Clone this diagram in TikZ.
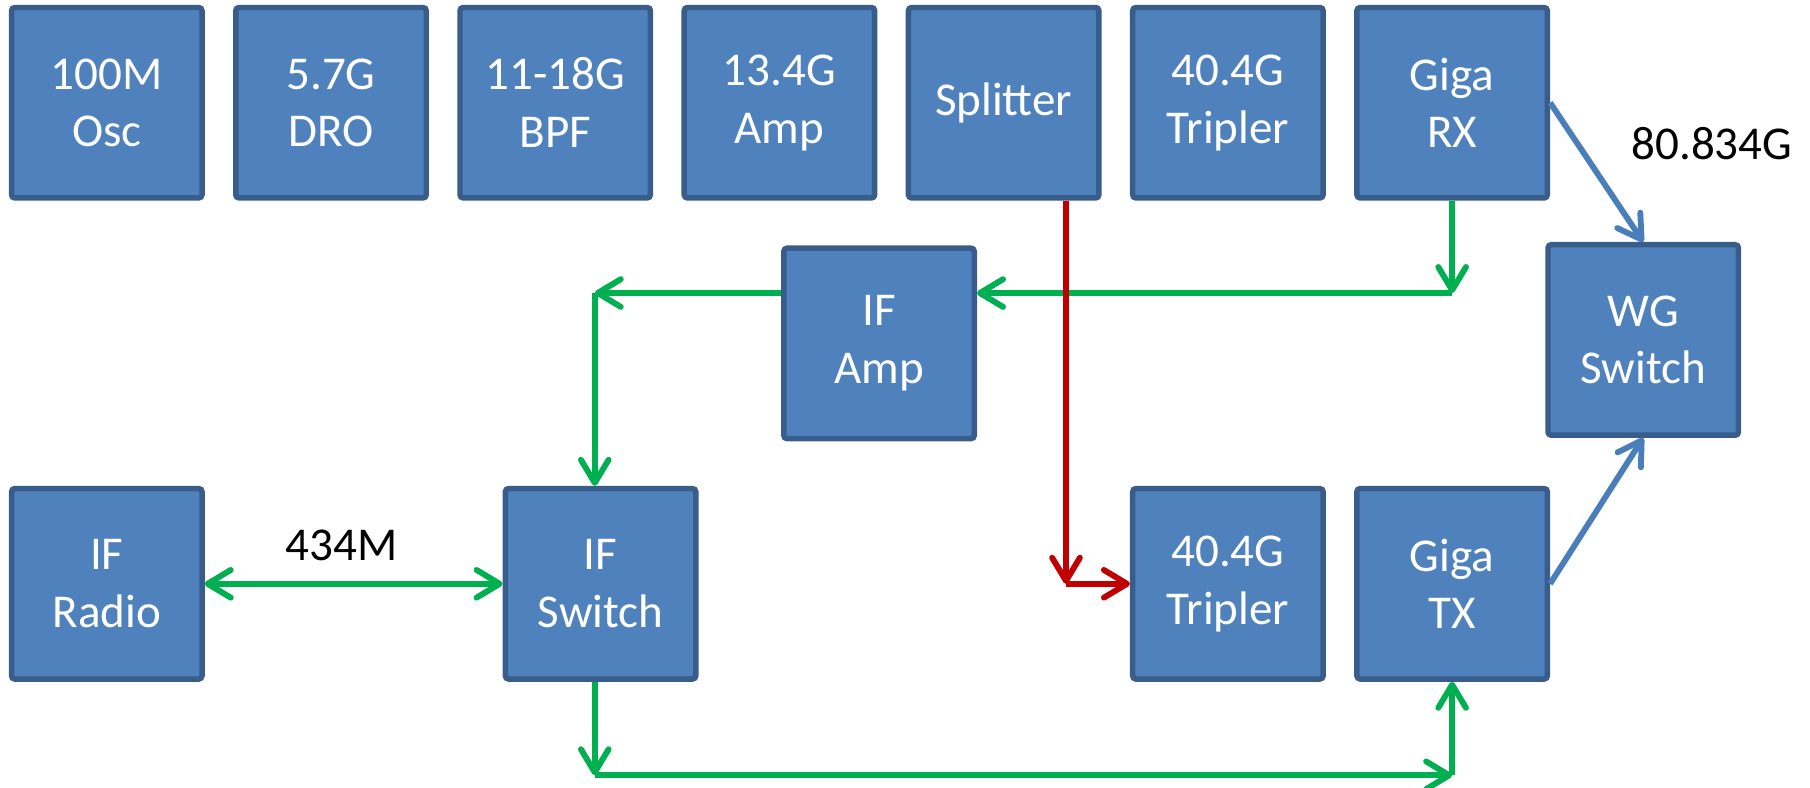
\documentclass[tikz,border=0pt]{standalone}
\usepackage{fontspec}
\setmainfont{Carlito}
\usetikzlibrary{positioning, arrows.meta}
\definecolor{boxfill}{HTML}{4F81BD}
\definecolor{boxline}{HTML}{385D8A}
\definecolor{ifgreen}{HTML}{00B050}
\definecolor{lored}{HTML}{C00000}
\definecolor{rfblue}{HTML}{4A7EBB}
\tikzstyle{unit}=[draw=boxline,fill=boxfill,rectangle,line width=1.35pt,rounded corners=0.8pt,minimum size=1.65cm,inner sep=0pt,align=center,text=white,font=\fontsize{11.6}{14.2}\selectfont]
\tikzstyle{tag}=[font=\fontsize{11.6}{14.2}\selectfont]
\tikzstyle{ifpath}=[->,draw=ifgreen,line width=1.45pt]
\tikzstyle{lopath}=[->,draw=lored,line width=1.45pt]
\tikzstyle{rfpath}=[->,draw=rfblue,line width=1.45pt]

\begin{document}
\begin{tikzpicture}[>={Straight Barb[length=2mm,width=2.4mm,round]}, node distance=0.245cm]
    \useasboundingbox (0,0) rectangle (15.68,-6.82);
    % top row
    \node[unit] at (0.925,-0.89) (osc) {100M\\Osc};
    \node[unit, right=of osc] (dro) {5.7G\\DRO};
    \node[unit, right=of dro] (bpf) {11-18G\\BPF};
    \node[unit, right=of bpf] (amp) {13.4G\\Amp};
    \node[unit, right=of amp] (split) {Splitter};
    \node[unit, right=of split] (tripa) {40.4G\\Tripler};
    \node[unit, right=of tripa] (rx) {Giga\\RX};
    % middle
    \node[unit] at (7.615,-2.975) (ifamp) {IF\\Amp};
    \node[unit] at (14.235,-2.945) (wg) {WG\\Switch};
    % bottom row
    \node[unit, below=2.47cm of osc] (radio) {IF\\Radio};
    \node[unit, right=2.58cm of radio] (ifsw) {IF\\Switch};
    \node[unit, below=2.47cm of tripa] (tripb) {40.4G\\Tripler};
    \node[unit, below=2.47cm of rx] (tx) {Giga\\TX};
    \node[tag] at (14.83,-1.24) (rflabel) {80.834G};
    % turning points
    \coordinate[below=0.8cm of rx.south] (rxdrop);
    \coordinate[left=0.05cm of rxdrop -| ifsw.north] (ampleft);
    \coordinate[below=0.81cm of ifsw.south, xshift=-0.05cm] (swdrop);
    \coordinate (txdrop) at (swdrop -| tx.south);
    \coordinate[right=0.54cm of split.south] (lotap);
    \coordinate (locorner) at (lotap |- tripb.west);
    % receive path
    \draw[ifpath] (rx.south) -- (rxdrop);
    \draw[ifpath] (rxdrop) -- (rxdrop -| ifamp.east);
    \draw[ifpath] (rxdrop -| ifamp.west) -- (ampleft);
    \draw[ifpath] (ampleft) -- (ampleft |- ifsw.north);
    % transmit path
    \draw[ifpath] (swdrop |- ifsw.south) -- (swdrop);
    \draw[ifpath] (swdrop) -- (txdrop);
    \draw[ifpath] (txdrop) -- (tx.south);
    \draw[ifpath, <->] (radio) -- node[tag, above=0.6mm, pos=0.46] (ifrate) {434M} (ifsw);
    % local oscillator
    \draw[lopath] (lotap) -- (locorner);
    \draw[lopath] (locorner) -- (tripb.west);
    % waveguide
    \draw[rfpath] (rx.east) -- (wg.north);
    \draw[rfpath] (tx.east) -- (wg.south);
\end{tikzpicture}
\end{document}
